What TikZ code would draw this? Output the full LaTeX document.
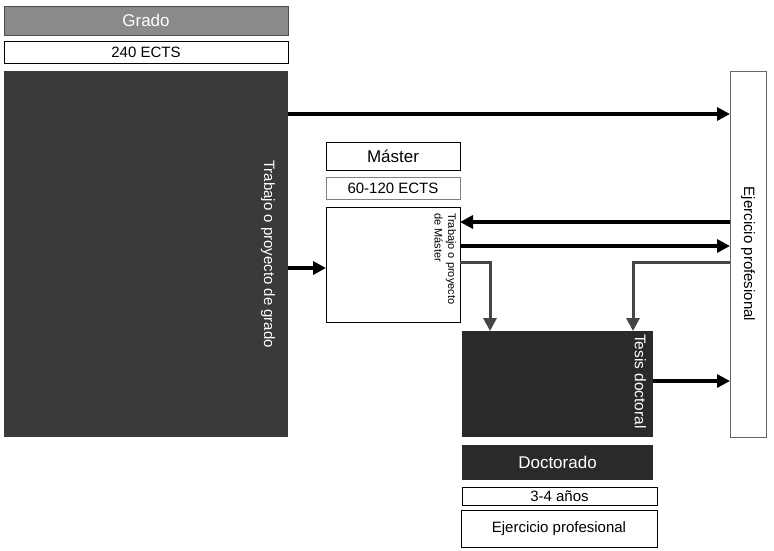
\documentclass[tikz,border=0pt]{standalone}
\usepackage{fontspec}
\setmainfont{Liberation Sans}
\usetikzlibrary{arrows.meta}
\definecolor{gradogray}{HTML}{8A8A8A}
\definecolor{bigdark}{HTML}{3A3A3A}
\definecolor{docdark}{HTML}{2A2A2A}
\definecolor{linegray}{HTML}{454545}
\newcommand\myfs[1]{\fontsize{#1}{#1}\selectfont}
\begin{document}
\begin{tikzpicture}[x=1pt,y=-1pt,
  box/.style={draw=black, line width=0.8pt, anchor=north west, inner sep=0pt, outer sep=0pt, align=center},
  darkbox/.style={box, draw=none, text=white},
  vtext/.style={rotate=-90, inner sep=0pt, outer sep=0pt},
  arr/.style={draw=black, line width=3.2pt, -{Triangle[length=13pt,width=13pt]}},
  garr/.style={draw=linegray, line width=3pt, -{Triangle[length=13pt,width=13pt]}}]
\useasboundingbox (0,0) rectangle (774,550);
% Grado column
\node[box, fill=gradogray, draw=gray!60!black, text=white, minimum width=284pt, minimum height=29pt, font=\myfs{17}] (grado) at (4,6) {Grado};
\node[box, minimum width=284pt, minimum height=22pt, font=\myfs{15}] (ects240) at (4,41) {240 ECTS};
\node[darkbox, fill=bigdark, minimum width=284pt, minimum height=366pt] (big) at (4,71) {};
\node[vtext, text=white, font=\myfs{15}] (bigtxt) at (268,254) {Trabajo o proyecto de grado};
% Ejercicio profesional (right)
\node[box, draw=gray!80!black, minimum width=36pt, minimum height=366pt] (ejer) at (730,71) {};
\node[vtext, font=\myfs{15}] (ejertxt) at (748,254) {Ejercicio profesional};
% Master column
\node[box, minimum width=134pt, minimum height=28pt, font=\myfs{17}] (master) at (326,142) {Máster};
\node[box, draw=gray, minimum width=134pt, minimum height=22pt, font=\myfs{15}] (ects60) at (326,177) {60-120 ECTS};
\node[box, minimum width=134pt, minimum height=115pt] (tm) at (326,207) {};
\node[vtext, anchor=north west, align=left, font=\fontsize{11}{13.5}\selectfont] (tmtxt) at (456,213) {Trabajo o proyecto\\de Máster};
% Doctorado column
\node[darkbox, fill=docdark, minimum width=191pt, minimum height=106pt] (tesis) at (462,331) {};
\node[vtext, anchor=north west, text=white, font=\myfs{15.5}] (tesistxt) at (646,334) {Tesis doctoral};
\node[darkbox, fill=docdark, minimum width=191pt, minimum height=35pt, font=\myfs{17}] (doct) at (462,445) {Doctorado};
\node[box, minimum width=195pt, minimum height=18pt, font=\myfs{15}] (anos) at (462,487) {3-4 años};
\node[box, minimum width=196pt, minimum height=37pt, font=\myfs{15}] (ejer2) at (461,510) {Ejercicio profesional};
% Connectors
\draw[arr] (big.east |- 0,114) -- (ejer.west |- 0,114);
\draw[arr] (big.east |- 0,268) -- (tm.west |- 0,268);
\draw[arr] (ejer.west |- 0,222) -- (tm.east |- 0,222);
\draw[arr] (tm.east |- 0,246) -- (ejer.west |- 0,246);
\draw[garr] (tm.east |- 0,262) -| (tesis.north -| 490,0);
\draw[garr] (ejer.west |- 0,262) -| (tesis.north -| 633,0);
\draw[arr] (tesis.east |- 0,381) -- (ejer.west |- 0,381);
\end{tikzpicture}
\end{document}
